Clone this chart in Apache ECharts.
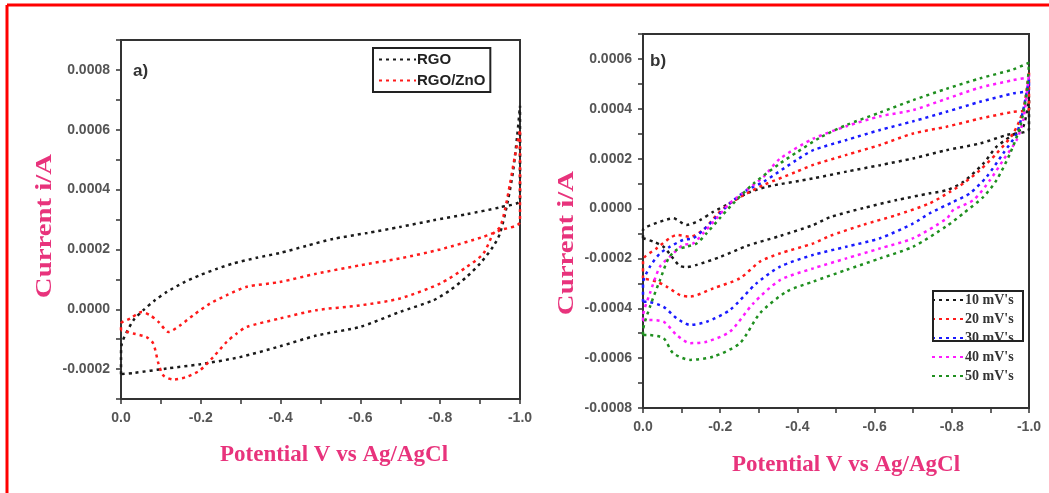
<!DOCTYPE html>
<html>
<head>
<meta charset="utf-8">
<script src="https://cdn.jsdelivr.net/npm/echarts@6.0.0/dist/echarts.min.js"></script>
<style>
  body { margin: 0; background: #fff; }
  #main { width: 1049px; height: 493px; }
</style>
</head>
<body>
<div id="main"></div>
<script>
// panel a: [potential V, current A]
var rgo = [
  [0, -0.000217], [0, -0.00016], [-0.002, -0.000115], [-0.031, -0.000037], [-0.056, -0.000003],
  [-0.085, 0.00003], [-0.115, 0.000058], [-0.155, 0.000088], [-0.198, 0.000114], [-0.24, 0.000135],
  [-0.281, 0.000153], [-0.34, 0.000172], [-0.398, 0.000188], [-0.465, 0.000212], [-0.531, 0.000235],
  [-0.617, 0.000255], [-0.699, 0.000275], [-0.782, 0.000297], [-0.867, 0.000318], [-0.95, 0.000341],
  [-1.0, 0.000365], [-1.0, 0.00068], [-0.993, 0.00058], [-0.983, 0.000465], [-0.97, 0.000365],
  [-0.95, 0.000254], [-0.932, 0.000208], [-0.9, 0.000153], [-0.866, 0.000108], [-0.825, 0.000064],
  [-0.783, 0.00003], [-0.699, -0.000009], [-0.599, -0.000059], [-0.49, -0.000088], [-0.398, -0.000124],
  [-0.298, -0.00016], [-0.198, -0.000184], [-0.115, -0.000198], [-0.031, -0.000213], [0, -0.000217]
];
var rgoZnO = [
  [0, -0.00007], [0, -0.000048], [-0.023, -0.000031], [-0.052, -0.000009], [-0.073, -0.00002],
  [-0.094, -0.000042], [-0.119, -0.000076], [-0.148, -0.000054], [-0.181, -0.00002], [-0.223, 0.000019],
  [-0.265, 0.000047], [-0.315, 0.000075], [-0.398, 0.000091], [-0.49, 0.000119], [-0.599, 0.000147],
  [-0.699, 0.00017], [-0.8, 0.0002], [-0.908, 0.000242], [-0.95, 0.000264], [-1.0, 0.000292],
  [-1.0, 0.0006], [-0.987, 0.00051], [-0.975, 0.00042], [-0.962, 0.000331], [-0.95, 0.000275],
  [-0.933, 0.000253], [-0.908, 0.000186], [-0.866, 0.000141], [-0.8, 0.000086], [-0.699, 0.000036],
  [-0.599, 0.000013], [-0.49, -0.000003], [-0.398, -0.000031], [-0.315, -0.000059], [-0.29, -0.000081],
  [-0.265, -0.000109], [-0.231, -0.00016], [-0.198, -0.000204], [-0.165, -0.000226], [-0.131, -0.000235],
  [-0.106, -0.000221], [-0.094, -0.000182], [-0.081, -0.000115], [-0.064, -0.000093], [-0.031, -0.000081],
  [0, -0.00007]
];

// panel b: scan rates
var scan10 = [
  [0, -0.000119], [0, -0.000085], [-0.01, -0.000073], [-0.044, -0.000053], [-0.078, -0.000039],
  [-0.113, -0.000066], [-0.148, -0.000046], [-0.182, -0.000013], [-0.225, 0.000021], [-0.269, 0.000061],
  [-0.32, 0.000087], [-0.441, 0.000121], [-0.527, 0.000148], [-0.614, 0.000174], [-0.7, 0.000201],
  [-0.786, 0.000234], [-0.873, 0.000261], [-0.942, 0.000295], [-1, 0.000318],
  [-1, 0.00045], [-0.985, 0.000328], [-0.951, 0.000288], [-0.916, 0.000248], [-0.882, 0.000181],
  [-0.83, 0.000107], [-0.787, 0.000074], [-0.743, 0.000061], [-0.657, 0.000034], [-0.571, 0.000002],
  [-0.484, -0.000035], [-0.441, -0.000066], [-0.355, -0.00011], [-0.269, -0.00015], [-0.199, -0.000195],
  [-0.139, -0.000226], [-0.113, -0.000235], [-0.095, -0.00023], [-0.078, -0.0002], [-0.053, -0.000153],
  [-0.027, -0.000133], [0, -0.000119]
];
var scan20 = [
  [0, -0.00028], [0, -0.000206], [-0.035, -0.00016], [-0.07, -0.000118], [-0.087, -0.000106],
  [-0.122, -0.000113], [-0.156, -0.000086], [-0.191, -0.000026], [-0.225, 0.000021], [-0.269, 0.000061],
  [-0.312, 0.000094], [-0.398, 0.000148], [-0.441, 0.000175], [-0.527, 0.000215], [-0.614, 0.000255],
  [-0.7, 0.000301], [-0.786, 0.000328], [-0.873, 0.000361], [-0.959, 0.000388], [-1, 0.0004],
  [-1, 0.00055], [-0.985, 0.000395], [-0.959, 0.000301], [-0.916, 0.000221], [-0.873, 0.000154],
  [-0.83, 0.000101], [-0.795, 0.000067], [-0.743, 0.000021], [-0.657, -0.000026], [-0.571, -0.000065],
  [-0.484, -0.00011], [-0.441, -0.00014], [-0.355, -0.00018], [-0.303, -0.000213], [-0.251, -0.00028],
  [-0.182, -0.00032], [-0.122, -0.000353], [-0.096, -0.000347], [-0.061, -0.000313], [-0.035, -0.000293],
  [0, -0.00028]
];
var scan30 = [
  [0, -0.000374], [0, -0.0003], [-0.018, -0.000233], [-0.044, -0.00018], [-0.07, -0.000153],
  [-0.104, -0.000126], [-0.13, -0.000119], [-0.156, -0.000086], [-0.191, -0.000033], [-0.225, 0.000021],
  [-0.269, 0.000074], [-0.312, 0.000107], [-0.398, 0.000195], [-0.441, 0.000234], [-0.527, 0.000275],
  [-0.614, 0.000315], [-0.7, 0.00035], [-0.786, 0.000388], [-0.873, 0.000428], [-0.959, 0.000462],
  [-1, 0.000475],
  [-1, 0.00052], [-0.985, 0.000395], [-0.968, 0.000301], [-0.933, 0.000221], [-0.89, 0.000127],
  [-0.847, 0.000061], [-0.804, 0.000027], [-0.743, -0.000019], [-0.7, -0.00006], [-0.614, -0.000119],
  [-0.527, -0.000153], [-0.441, -0.000186], [-0.355, -0.000233], [-0.294, -0.0003], [-0.225, -0.000407],
  [-0.165, -0.000454], [-0.122, -0.000467], [-0.087, -0.00044], [-0.053, -0.000394], [-0.01, -0.000374],
  [0, -0.000374]
];
var scan40 = [
  [0, -0.00045], [0, -0.000434], [-0.018, -0.00034], [-0.044, -0.000233], [-0.07, -0.000193],
  [-0.104, -0.000146], [-0.13, -0.00014], [-0.156, -0.000099], [-0.191, -0.000039], [-0.225, 0.000021],
  [-0.269, 0.000074], [-0.312, 0.000127], [-0.355, 0.0002], [-0.441, 0.00028], [-0.527, 0.00033],
  [-0.614, 0.00037], [-0.7, 0.000395], [-0.786, 0.00044], [-0.873, 0.000485], [-0.959, 0.000515],
  [-1, 0.00053],
  [-1, 0.00054], [-0.985, 0.000355], [-0.968, 0.000275], [-0.933, 0.000194], [-0.899, 0.000114],
  [-0.856, 0.000034], [-0.804, -0.000006], [-0.787, -0.00004], [-0.7, -0.000119], [-0.614, -0.00016],
  [-0.527, -0.0002], [-0.441, -0.00024], [-0.355, -0.000287], [-0.286, -0.00038], [-0.225, -0.000494],
  [-0.165, -0.000534], [-0.122, -0.00054], [-0.087, -0.000507], [-0.053, -0.000454], [-0.01, -0.000447],
  [0, -0.00045]
];
var scan50 = [
  [0, -0.000507], [0, -0.000494], [-0.018, -0.000394], [-0.044, -0.000287], [-0.066, -0.0002],
  [-0.087, -0.000166], [-0.113, -0.000153], [-0.139, -0.00014], [-0.165, -0.000099], [-0.199, -0.000039],
  [-0.234, 0.000021], [-0.287, 0.000101], [-0.355, 0.000181], [-0.398, 0.000225], [-0.459, 0.000285],
  [-0.527, 0.000335], [-0.614, 0.000385], [-0.7, 0.000435], [-0.786, 0.00048], [-0.873, 0.000522],
  [-0.959, 0.000558], [-1, 0.000585],
  [-0.994, 0.000462], [-0.977, 0.000328], [-0.951, 0.000221], [-0.916, 0.000114], [-0.882, 0.000047],
  [-0.83, -0.000019], [-0.787, -0.00007], [-0.7, -0.000153], [-0.614, -0.0002], [-0.527, -0.000246],
  [-0.441, -0.000293], [-0.372, -0.000333], [-0.303, -0.00042], [-0.251, -0.00054], [-0.182, -0.000594],
  [-0.122, -0.000607], [-0.078, -0.00058], [-0.053, -0.00052], [-0.01, -0.000507], [0, -0.000507]
];

var namesA = ['RGO', 'RGO/ZnO'];
var namesB = ["10 mV's", "20 mV's", "30 mV's", "40 mV's", "50 mV's"];
var colorsA = ['#1a1a1a', '#ff1a1a'];
var colorsB = ['#1a1a1a', '#ff1a1a', '#1a1aff', '#ff1aff', '#1f8f1f'];

var pink = '#e8337c';
var serifTitle = '"Liberation Serif", "DejaVu Serif", serif';

function xLabel(v) {
  return Math.round(v * 10) % 2 === 0 ? v.toFixed(1) : '';
}
function yLabel(v) {
  return Math.round(v * 10000) % 2 === 0 ? v.toFixed(4) : '';
}

function makeX(gridIndex) {
  return {
    type: 'value', gridIndex: gridIndex, min: -1, max: 0, interval: 0.1, inverse: true,
    axisLine: { onZero: false, lineStyle: { color: '#333', width: 2 } },
    axisTick: { length: 5, lineStyle: { color: '#333', width: 1.5 } },
    axisLabel: {
      formatter: xLabel, margin: 12, color: '#555', fontFamily: 'Arial', fontWeight: 'bold', fontSize: 14,
      showMinLabel: true, showMaxLabel: true
    },
    splitLine: { show: false }
  };
}
function makeY(gridIndex, min, max) {
  return {
    type: 'value', gridIndex: gridIndex, min: min, max: max, interval: 0.0001,
    axisLine: { show: true, onZero: false, lineStyle: { color: '#333', width: 2 } },
    axisTick: { show: true, length: 5, lineStyle: { color: '#333', width: 1.5 } },
    axisLabel: {
      formatter: yLabel, margin: 11, color: '#555', fontFamily: 'Arial', fontWeight: 'bold', fontSize: 14,
      showMinLabel: true, showMaxLabel: true
    },
    splitLine: { show: false }
  };
}
function makeSeries(name, data, color, idx) {
  return {
    name: name, type: 'line', data: data,
    xAxisIndex: idx, yAxisIndex: idx,
    showSymbol: false, symbol: 'none', smooth: 0.25,
    lineStyle: { color: color, width: 2.5, type: [3, 4] },
    itemStyle: { color: color },
    z: 3
  };
}

var seriesA = [rgo, rgoZnO].map(function (d, i) { return makeSeries(namesA[i], d, colorsA[i], 0); });
var seriesB = [scan10, scan20, scan30, scan40, scan50].map(function (d, i) { return makeSeries(namesB[i], d, colorsB[i], 1); });

var option = {
  animation: false,
  backgroundColor: '#fff',
  grid: [
    { left: 121, top: 40, width: 399, height: 359, show: true, borderColor: '#333', borderWidth: 2, outerBoundsMode: 'none' },
    { left: 643, top: 34, width: 386, height: 374, show: true, borderColor: '#333', borderWidth: 2, outerBoundsMode: 'none' }
  ],
  xAxis: [makeX(0), makeX(1)],
  yAxis: [makeY(0, -0.0003, 0.0009), makeY(1, -0.0008, 0.0007)],
  legend: [
    {
      data: namesA, orient: 'vertical', left: 373, top: 48,
      itemWidth: 37, itemHeight: 10, itemGap: 6, padding: [4, 5],
      itemStyle: { opacity: 0 },
      borderColor: '#222', borderWidth: 2,
      textStyle: { fontFamily: 'Arial', fontWeight: 'bold', fontSize: 15, color: '#222', padding: [0, 0, 0, -4] }
    },
    {
      data: namesB, orient: 'vertical', left: 931, top: 293,
      itemWidth: 32, itemHeight: 10, itemGap: 5, padding: 0,
      itemStyle: { opacity: 0 },
      textStyle: { fontFamily: serifTitle, fontWeight: 'bold', fontSize: 14, color: '#333', padding: [0, 0, 0, -4] }
    }
  ],
  graphic: [
    { type: 'line', shape: { x1: 7, y1: 5, x2: 1049, y2: 5 }, style: { stroke: '#ff0000', lineWidth: 3 } },
    { type: 'line', shape: { x1: 7, y1: 5, x2: 7, y2: 493 }, style: { stroke: '#ff0000', lineWidth: 3 } },
    { type: 'rect', shape: { x: 933, y: 291, width: 90, height: 50 }, style: { fill: 'none', stroke: '#222', lineWidth: 2 }, z: 10 },
    { type: 'text', x: 133, y: 63, style: { text: 'a)', font: 'bold 17px Arial', fill: '#333' } },
    { type: 'text', x: 650, y: 53, style: { text: 'b)', font: 'bold 17px Arial', fill: '#333' } },
    {
      type: 'text', x: 45, y: 226, rotation: Math.PI / 2, scaleX: 1.2,
      style: { text: 'Current i/A', font: 'bold 24px ' + serifTitle, fill: pink, align: 'center', verticalAlign: 'middle' }
    },
    {
      type: 'text', x: 567, y: 243, rotation: Math.PI / 2, scaleX: 1.2,
      style: { text: 'Current i/A', font: 'bold 24px ' + serifTitle, fill: pink, align: 'center', verticalAlign: 'middle' }
    },
    {
      type: 'text', x: 334, y: 455,
      style: { text: 'Potential V vs Ag/AgCl', font: 'bold 23px ' + serifTitle, fill: pink, align: 'center', verticalAlign: 'middle' }
    },
    {
      type: 'text', x: 846, y: 465,
      style: { text: 'Potential V vs Ag/AgCl', font: 'bold 23px ' + serifTitle, fill: pink, align: 'center', verticalAlign: 'middle' }
    }
  ],
  series: seriesA.concat(seriesB)
};

var myChart = echarts.init(document.getElementById('main'), null, { renderer: 'canvas' });
myChart.setOption(option);
</script>
</body>
</html>
